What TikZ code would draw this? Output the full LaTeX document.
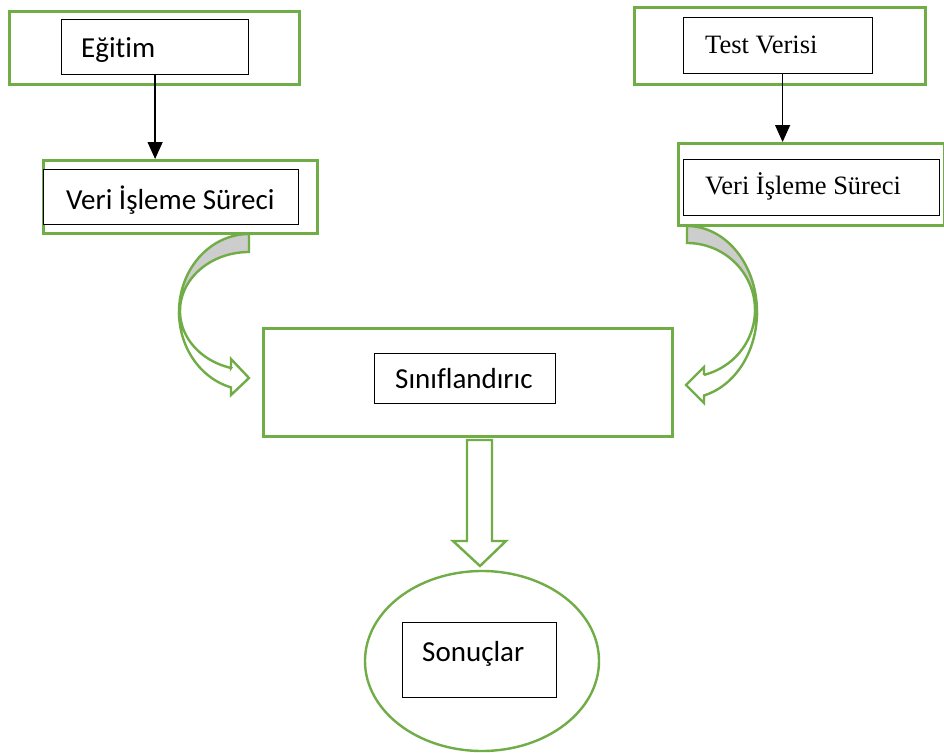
\documentclass[tikz,border=0pt]{standalone}
\usepackage{fontspec}
\setmainfont{Liberation Serif}
\newfontfamily\calib[Ligatures=NoCommon]{Carlito}
\usetikzlibrary{arrows.meta,shapes.geometric}
\definecolor{offgreen}{HTML}{70AD47}
\definecolor{foldgray}{HTML}{CDCDCD}
\begin{document}
\begin{tikzpicture}[x=1pt,y=-1pt,
  gbox/.style={draw=offgreen,line width=2.6pt,fill=white,rectangle,inner sep=0pt,anchor=north west},
  kbox/.style={draw=black,line width=1.2pt,fill=white,rectangle,inner sep=0pt,anchor=north west},
  sanslbl/.style={inner sep=0pt,anchor=base west,font=\calib\fontsize{29}{34}\selectfont},
  seriflbl/.style={inner sep=0pt,anchor=base west,font=\fontsize{26.5}{32}\selectfont},
  blockarrow/.style={draw=offgreen,line width=2.4pt,fill=white,line join=miter},
  foldpart/.style={draw=offgreen,line width=2.4pt,fill=foldgray,line join=miter},
  linkarrow/.style={draw=black,line width=1.3pt,-{Triangle[width=15pt,length=17pt]}}
]
\useasboundingbox (0,0) rectangle (944,752);
\fill[white] (0,0) rectangle (944,752);

% Left column
\node[gbox,minimum width=290pt,minimum height=73pt] (eout) at (8,10) {};
\node[kbox,minimum width=187pt,minimum height=55pt] (ein) at (61,19) {};
\node[sanslbl] (etxt) at (81,57) {Eğitim};

\node[gbox,minimum width=274pt,minimum height=73pt] (vlout) at (42,159) {};
\node[kbox,minimum width=255pt,minimum height=55pt] (vlin) at (43,169) {};
\node[sanslbl] (vltxt) at (66,209) {Veri İşleme Süreci};

\draw[linkarrow] (ein.south) -- (ein.south |- vlout.north);

% Right column
\node[gbox,minimum width=291pt,minimum height=77pt] (tout) at (633,6) {};
\node[kbox,minimum width=189pt,minimum height=56pt] (tin) at (683,17) {};
\node[seriflbl] (ttxt) at (705,54) {Test Verisi};

\node[gbox,minimum width=266pt,minimum height=82pt] (vrout) at (677,142) {};
\node[kbox,minimum width=256pt,minimum height=56pt] (vrin) at (683,159) {};
\node[seriflbl] (vrtxt) at (705,194) {Veri İşleme Süreci};

\coordinate (tarrow) at ([xshift=4.5pt]tin.south);
\draw[linkarrow] (tarrow) -- (tarrow |- vrout.north);

% Classifier
\node[gbox,minimum width=409pt,minimum height=108pt] (cout) at (262,327) {};
\node[kbox,minimum width=181pt,minimum height=50pt] (cin) at (374,353) {};
\node[sanslbl] (ctxt) at (395,388) {Sınıflandırıc};

% Results
\node[draw=offgreen,line width=2.4pt,fill=white,ellipse,minimum width=234pt,minimum height=180pt,inner sep=0pt] (rout) at (482,661) {};
\node[kbox,minimum width=154pt,minimum height=75pt] (rin) at (402,622) {};
\node[sanslbl] (rtxt) at (422,661) {Sonuçlar};

% Down block arrow
\draw[blockarrow] (467,440) -- (492,440) -- (492,541) -- (506,541) -- (480,566) -- (453,541) -- (467,541) -- cycle;

% Left curved arrow
\draw[blockarrow] plot[domain=180:104.9,samples=40] ({249+70*cos(\x)},{312+78*sin(\x)})
  -- (231,395) -- (249,378) -- (231,359) -- (231,368)
  -- plot[domain=105.1:180,samples=40] ({249+69*cos(\x)},{311+59*sin(\x)}) -- cycle;
\draw[foldpart] plot[domain=-90:-180,samples=40] ({249+70*cos(\x)},{312+78*sin(\x)})
  -- plot[domain=180:270,samples=40] ({249+69*cos(\x)},{311+59*sin(\x)}) -- cycle;

% Right curved arrow
\draw[blockarrow] plot[domain=0:75.9,samples=40] ({687+70*cos(\x)},{312+86*sin(\x)})
  -- (704,403) -- (686,385) -- (704,367) -- (704,375)
  -- plot[domain=75.5:0,samples=40] ({687+68*cos(\x)},{310+67*sin(\x)}) -- cycle;
\draw[foldpart] plot[domain=-90:0,samples=40] ({687+70*cos(\x)},{312+86*sin(\x)})
  -- plot[domain=0:-90,samples=40] ({687+68*cos(\x)},{310+67*sin(\x)}) -- cycle;
\end{tikzpicture}
\end{document}
